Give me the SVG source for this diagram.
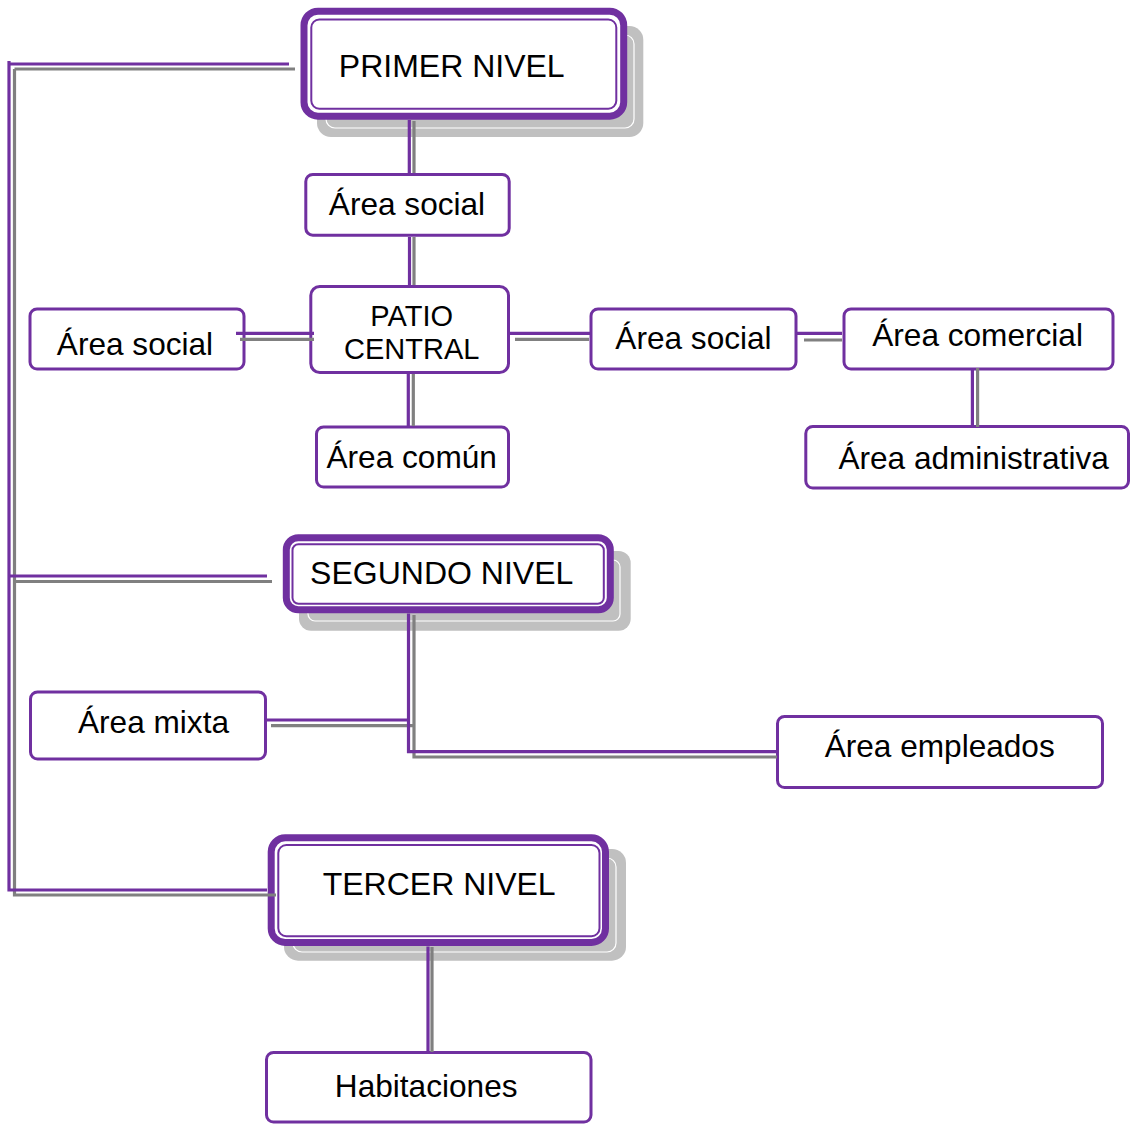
<svg xmlns="http://www.w3.org/2000/svg" width="1132" height="1124" viewBox="0 0 1132 1124">
<style>
.p{fill:none;stroke:#7030A0;stroke-width:3.2}
.g{fill:none;stroke:#808080;stroke-width:3.2}
.box{fill:#fff;stroke:#7030A0;stroke-width:3}
.outer{fill:#fff;stroke:#7030A0;stroke-width:7}
.inner{fill:#fff;stroke:#7030A0;stroke-width:2}
.sh{fill:#C0C0C0}
.shl{fill:none;stroke:#fff;stroke-width:1.2}
text{font-family:"Liberation Sans",Arial,sans-serif;font-size:31.6px;fill:#000;text-anchor:middle}
.t{font-size:32px}
.pc{font-size:29px}
</style>
<rect width="1132" height="1124" fill="#fff"/>
<g id="primer-nivel">
<rect class="sh" x="317" y="26" width="326.3" height="111" rx="14"/>
<rect class="shl" x="326" y="35" width="308" height="93" rx="9"/>
<rect class="outer" x="304" y="11.2" width="319.7" height="105" rx="14"/>
<rect class="inner" x="311.3" y="19.5" width="305" height="89.2" rx="8"/>
<text class="t" x="451.7" y="76.5">PRIMER NIVEL</text>
</g>
<g id="area-social-top">
<rect class="box" x="305.8" y="174.5" width="203.4" height="60.7" rx="7"/>
<text x="407" y="215">Área social</text>
</g>
<g id="patio-central">
<rect class="box" x="310.8" y="286.5" width="197.7" height="86" rx="9"/>
<text class="pc" x="411.7" y="325.5">PATIO</text>
<text class="pc" x="411.7" y="359">CENTRAL</text>
</g>
<g id="area-social-left">
<rect class="box" x="30" y="309" width="214" height="60" rx="7"/>
<text x="135" y="355.3">Área social</text>
</g>
<g id="area-social-right">
<rect class="box" x="591" y="309" width="205" height="60" rx="7"/>
<text x="693.5" y="348.5">Área social</text>
</g>
<g id="area-comercial">
<rect class="box" x="844" y="309" width="269" height="60" rx="7"/>
<text x="977.6" y="346.2">Área comercial</text>
</g>
<g id="area-comun">
<rect class="box" x="316.5" y="427" width="192" height="60" rx="7"/>
<text x="411.7" y="468.3">Área común</text>
</g>
<g id="area-administrativa">
<rect class="box" x="805.8" y="426.5" width="322.7" height="61.5" rx="7"/>
<text x="973.6" y="469">Área administrativa</text>
</g>
<g id="segundo-nivel">
<rect class="sh" x="299" y="551" width="331.7" height="79.7" rx="12"/>
<rect class="shl" x="308" y="560" width="312" height="61" rx="7"/>
<rect class="outer" x="286.3" y="537.8" width="324" height="71.9" rx="12"/>
<rect class="inner" x="292.5" y="544.3" width="311.3" height="59.5" rx="6"/>
<text class="t" x="441.7" y="583.5">SEGUNDO NIVEL</text>
</g>
<g id="area-mixta">
<rect class="box" x="30.5" y="692" width="235" height="67" rx="7"/>
<text x="153.5" y="733">Área mixta</text>
</g>
<g id="area-empleados">
<rect class="box" x="777.5" y="716.5" width="325" height="71" rx="7"/>
<text x="939.7" y="757">Área empleados</text>
</g>
<g id="tercer-nivel">
<rect class="sh" x="284" y="849" width="342" height="111.7" rx="14"/>
<rect class="shl" x="293" y="858" width="323" height="94" rx="9"/>
<rect class="outer" x="271.2" y="837.8" width="334.3" height="104.7" rx="14"/>
<rect class="inner" x="278.3" y="845" width="321.2" height="91.2" rx="8"/>
<text class="t" x="439.2" y="895">TERCER NIVEL</text>
</g>
<g id="habitaciones">
<rect class="box" x="266.5" y="1052.5" width="324.5" height="69.5" rx="7"/>
<text x="426.2" y="1097">Habitaciones</text>
</g>
<g id="connectors">
<path class="g" d="M14.5,69 H295 M14.5,69 V895 H276 M14.5,581.5 H272"/>
<path class="p" d="M9,61 V890 H267 M9,64 H289 M9,576 H267"/>
<path class="g" d="M414,121 V173 M414,237 V285 M413.3,374 V426 M240,339.3 H314 M515,339.3 H589 M804,340 H842 M977.6,368 V427 M414,615 V757 H777 M271,725.7 H414 M432,947 V1052"/>
<path class="p" d="M409.3,120 V173 M409.5,237 V285 M408.3,374 V426 M236,333.3 H314 M510,333.3 H590 M797,333.3 H842 M972.4,368 V427 M408.5,613.5 V751.7 H777 M267,720 H408.5 M428,946.5 V1052"/>
</g>
</svg>
